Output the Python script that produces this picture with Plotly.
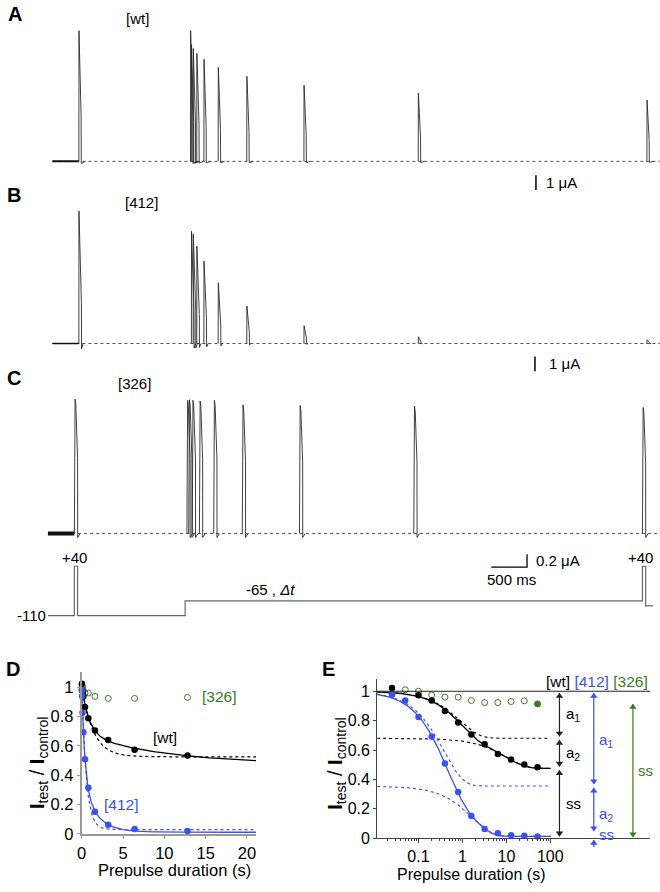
import numpy as np
import plotly.graph_objects as go

W, H = 660, 892


def fx(px):
    return px / W


def fy(py):
    return 1 - py / H


# ---------------- data ----------------
# Current traces: test intervals (s) and peak currents (uA)
dt_A = [0.0125, 0.025, 0.05, 0.1, 0.2, 0.4, 0.8, 1.6, 3.2, 6.4]
peak_A = [8.8, 7.87, 7.6, 7.27, 6.87, 6.33, 5.73, 5.13, 4.6, 4.13]
ctrl_A = 8.8

dt_B = [0.025, 0.05, 0.1, 0.2, 0.4, 0.8, 1.6, 3.2, 6.4]
peak_B = [7.56, 7.38, 6.56, 5.56, 4.09, 2.53, 1.2, 0.45, 0.25]
ctrl_B = 8.93

dt_C = [0.025, 0.05, 0.1, 0.2, 0.4, 0.8, 1.6, 3.2, 6.4]
peak_C = [2.07, 2.08, 2.07, 2.06, 2.07, 2.0, 1.99, 1.98, 1.96]
ctrl_C = 2.09

# pulse shapes (time after pulse start in s, fraction of peak)
tpl_A_t = [0, 0.002, 0.032, 0.034, 0.06, 0.09]
tpl_A_y = [0, 1, 0.34, -0.015, -0.01, 0]
tpl_B_t = [0, 0.002, 0.036, 0.038, 0.06]
tpl_B_y = [0, 1, 0.3, -0.04, 0]
tpl_C_t = [0, 0.004, 0.01, 0.02, 0.032, 0.045, 0.046, 0.06, 0.08]
tpl_C_y = [0, 0.85, 1, 0.96, 0.8, 0.56, -0.03, -0.02, 0]

# voltage protocol (mV, s)
V_HOLD, V_PULSE, V_PRE, V_POST = -110, 40, -65, -80
T_START, T_CTRL, PULSE_W, T_END = -1.92, -1.55, 0.045, 6.55
DT_SHOWN = 6.4

# Normalised test current vs prepulse duration
dt_wt = [0.025, 0.1, 0.2, 0.4, 0.8, 1.6, 3.2, 6.4, 12.8, 25.6, 51.2]
r_wt = [1.022, 0.973, 0.937, 0.865, 0.788, 0.705, 0.64, 0.573, 0.535, 0.501, 0.483]
dt_412 = [0.025, 0.05, 0.1, 0.2, 0.4, 0.8, 1.6, 3.2, 6.4, 12.8, 25.6, 51.2]
r_412 = [0.977, 0.937, 0.825, 0.692, 0.508, 0.315, 0.151, 0.063, 0.034, 0.02, 0.016, 0.012]
dt_326 = [0.025, 0.05, 0.1, 0.2, 0.4, 0.8, 1.6, 3.2, 6.4, 12.8, 25.6, 51.2]
r_326 = [0.984, 1.01, 1.0, 0.975, 0.96, 0.96, 0.937, 0.923, 0.923, 0.93, 0.935, 0.914]

# fit parameters
wt_fit = dict(ss=0.475, a1=0.32, tau1=0.9, a2=0.205, tau2=10.0)
m412_fit = dict(ss=0.012, a1=0.645, tau1=0.38, a2=0.343, tau2=1.7)
wt_mono = dict(ss=0.525, a=0.475, tau=1.4)
m412_mono = dict(ss=0.03, a=0.97, tau=0.55)
ss_326 = 0.92

# ---------------- colours ----------------
TRACE = '#2a2a2a'
BLUE = '#3b50f0'
GREEN = '#3d7a25'
FONT = 'Liberation Sans, Arial, Helvetica, sans-serif'

fig = go.Figure()


def xr(onset_px, ppu, left_px, right_px):
    return [(left_px - onset_px) / ppu, (right_px - onset_px) / ppu]


def yr(base_px, ppu, top_px, bot_px):
    return [-(bot_px - base_px) / ppu, (base_px - top_px) / ppu]


PX_S = 72.0
A_XR = xr(186, PX_S, 40, 660)
C_XR = xr(181.5, PX_S, 40, 660)
A_DOM_Y = (15, 200)
B_DOM_Y = (200, 385)
C_DOM_Y = (395, 590)
P_DOM_Y = (552, 634)
A_YR = yr(163, 15, *A_DOM_Y)
B_YR = yr(347, 15, *B_DOM_Y)
C_YR = yr(539, 65, *C_DOM_Y)
P_YR = yr(622 - 110 / 3.0, 1 / 3.0, *P_DOM_Y)


def build_sweeps(ctrl, dts, peaks, tt, ty):
    xs, ys = [], []
    for t0, a in [(T_CTRL, ctrl)] + list(zip(dts, peaks)):
        xs += [t0 + u for u in tt] + [None]
        ys += [a * v for v in ty] + [None]
    return xs, ys


def trace_panel(ax, ctrl, dts, peaks, tt, ty, xrng, pre_width):
    xa = 'x' if ax == 1 else 'x%d' % ax
    ya = 'y' if ax == 1 else 'y%d' % ax
    fig.add_trace(go.Scatter(x=[T_START, xrng[1]], y=[0, 0], mode='lines',
                             line=dict(color='#555', width=1, dash='dot'),
                             xaxis=xa, yaxis=ya, hoverinfo='skip'))
    fig.add_trace(go.Scatter(x=[T_START, T_CTRL], y=[0, 0], mode='lines',
                             line=dict(color='#111', width=pre_width),
                             xaxis=xa, yaxis=ya, hoverinfo='skip'))
    xs, ys = build_sweeps(ctrl, dts, peaks, tt, ty)
    fig.add_trace(go.Scatter(x=xs, y=ys, mode='lines',
                             line=dict(color=TRACE, width=0.9),
                             xaxis=xa, yaxis=ya, hoverinfo='skip'))


trace_panel(1, ctrl_A, dt_A, peak_A, tpl_A_t, tpl_A_y, A_XR, 2)
trace_panel(2, ctrl_B, dt_B, peak_B, tpl_B_t, tpl_B_y, A_XR, 1.5)
trace_panel(3, ctrl_C, dt_C, peak_C, tpl_C_t, tpl_C_y, C_XR, 4)

# scale bars
SB_UA_AB, SB_UA_C, SB_MS_C = 1.0, 0.2, 500
fig.add_trace(go.Scatter(x=[(535 - 186) / PX_S] * 2, y=[-0.93, -0.93 - SB_UA_AB], mode='lines',
                         line=dict(color='black', width=1.5), xaxis='x', yaxis='y'))
fig.add_trace(go.Scatter(x=[(534 - 186) / PX_S] * 2, y=[-0.87, -0.87 - SB_UA_AB], mode='lines',
                         line=dict(color='black', width=1.5), xaxis='x2', yaxis='y2'))
sbx = (526 - 181.5) / PX_S
sby = -0.523
fig.add_trace(go.Scatter(x=[sbx - SB_MS_C / 1000.0, sbx, sbx], y=[sby, sby, sby + SB_UA_C], mode='lines',
                         line=dict(color='black', width=1.3), xaxis='x3', yaxis='y3'))

# voltage protocol
pt = [T_START, T_CTRL, T_CTRL, T_CTRL + PULSE_W, T_CTRL + PULSE_W, 0, 0,
      DT_SHOWN, DT_SHOWN, DT_SHOWN + PULSE_W, DT_SHOWN + PULSE_W, T_END]
pv = [V_HOLD, V_HOLD, V_PULSE, V_PULSE, V_HOLD, V_HOLD, V_PRE,
      V_PRE, V_PULSE, V_PULSE, V_POST, V_POST]
fig.add_trace(go.Scatter(x=pt, y=pv, mode='lines', line=dict(color='#666', width=1.2),
                         xaxis='x4', yaxis='y4', hoverinfo='skip'))


# ---------------- fits ----------------
def biexp(t, p):
    t = np.asarray(t)
    return p['ss'] + p['a1'] * np.exp(-t / p['tau1']) + p['a2'] * np.exp(-t / p['tau2'])


def fast_comp(t, p):
    t = np.asarray(t)
    return p['ss'] + p['a2'] + p['a1'] * np.exp(-t / p['tau1'])


def slow_comp(t, p):
    t = np.asarray(t)
    return p['ss'] + p['a2'] * np.exp(-t / p['tau2'])


def mono(t, p):
    t = np.asarray(t)
    return p['ss'] + p['a'] * np.exp(-t / p['tau'])


D_XR = [0, 21.1]
tD = np.linspace(0, 21.1, 300)
for yv, col, dash, w in [(mono(tD, wt_mono), 'black', 'dot', 1.2),
                         (biexp(tD, wt_fit), 'black', 'solid', 1.3),
                         (mono(tD, m412_mono), BLUE, 'dot', 1.2),
                         (biexp(tD, m412_fit), BLUE, 'solid', 1.3)]:
    fig.add_trace(go.Scatter(x=tD, y=yv, mode='lines', line=dict(color=col, width=w, dash=dash),
                             xaxis='x5', yaxis='y5', hoverinfo='skip'))


def inrange(xs, ys, hi):
    pairs = [(a, b) for a, b in zip(xs, ys) if a <= hi]
    return [p[0] for p in pairs], [p[1] for p in pairs]


gx, gy = inrange(dt_326, r_326, D_XR[1])
fig.add_trace(go.Scatter(x=gx, y=gy, mode='markers', cliponaxis=False,
                         marker=dict(size=6, color='rgba(0,0,0,0)', line=dict(color=GREEN, width=1)),
                         xaxis='x5', yaxis='y5'))
bx, by = inrange(dt_wt, r_wt, D_XR[1])
fig.add_trace(go.Scatter(x=bx, y=by, mode='markers', cliponaxis=False,
                         marker=dict(size=6.5, color='black'), xaxis='x5', yaxis='y5'))
ux, uy = inrange(dt_412, r_412, D_XR[1])
fig.add_trace(go.Scatter(x=ux, y=uy, mode='markers', cliponaxis=False,
                         marker=dict(size=6.5, color=BLUE), xaxis='x5', yaxis='y5'))

E_XR = [-1.94, 4.27]
tE = np.logspace(-1.94, 2.01, 300)
for yv, col, dash, w in [(fast_comp(tE, wt_fit), 'black', 'dot', 1.1),
                         (slow_comp(tE, wt_fit), 'black', 'dot', 1.1),
                         (fast_comp(tE, m412_fit), BLUE, 'dot', 1.1),
                         (slow_comp(tE, m412_fit), BLUE, 'dot', 1.1),
                         (biexp(tE, wt_fit), 'black', 'solid', 1.3),
                         (biexp(tE, m412_fit), BLUE, 'solid', 1.3)]:
    fig.add_trace(go.Scatter(x=tE, y=yv, mode='lines', line=dict(color=col, width=w, dash=dash),
                             xaxis='x6', yaxis='y6', hoverinfo='skip'))

fig.add_trace(go.Scatter(x=dt_326, y=r_326, mode='markers', cliponaxis=False,
                         marker=dict(size=6, color=['rgba(0,0,0,0)'] * (len(dt_326) - 1) + [GREEN],
                                     line=dict(color=GREEN, width=1)),
                         xaxis='x6', yaxis='y6'))
fig.add_trace(go.Scatter(x=dt_wt, y=r_wt, mode='markers', cliponaxis=False,
                         marker=dict(size=6.5, color='black'), xaxis='x6', yaxis='y6'))
fig.add_trace(go.Scatter(x=dt_412, y=r_412, mode='markers', cliponaxis=False,
                         marker=dict(size=6.5, color=BLUE), xaxis='x6', yaxis='y6'))

# ---------------- amplitude arrows in E (overlay axes in pixel units) ----------------
E_PPU = 148.4
E_ZERO = 846.7
AR_TOP, AR_BOT = 680, 870
HEAD = 3.2 / E_PPU


def arrow(xpx, lo, hi, color, up=True, down=True):
    fig.add_trace(go.Scatter(x=[xpx, xpx], y=[lo, hi], mode='lines', line=dict(color=color, width=1.2),
                             xaxis='x7', yaxis='y7', hoverinfo='skip'))
    mx, my, ms = [], [], []
    if up:
        mx.append(xpx); my.append(hi - HEAD); ms.append('triangle-up')
    if down:
        mx.append(xpx); my.append(lo + HEAD); ms.append('triangle-down')
    fig.add_trace(go.Scatter(x=mx, y=my, mode='markers', cliponaxis=False,
                             marker=dict(symbol=ms, size=6.5, color=color, line=dict(width=0)),
                             xaxis='x7', yaxis='y7', hoverinfo='skip'))


g = 0.012
wl = [1.0, 1.0 - wt_fit['a1'], wt_fit['ss'], 0.0]
wt_labels = ['a<sub>1</sub>', 'a<sub>2</sub>', 'ss']
for i in range(3):
    arrow(558.7, wl[i + 1] + g, wl[i] - g, '#222')

bl = [1.0, m412_fit['ss'] + m412_fit['a2'], m412_fit['ss']]
arrow(593.3, bl[1] + g, bl[0] - g, BLUE)
arrow(593.3, bl[2] + 0.035, bl[1] - g, BLUE)
arrow(593.3, -0.06, -0.012, BLUE, up=True, down=False)
arrow(632.7, 0.006, ss_326 - 0.006, GREEN)

# ---------------- layout ----------------
hidden = dict(visible=False, fixedrange=True)
tickf = dict(family=FONT, size=16.5, color='black')
tickfE = dict(family=FONT, size=16, color='black')
minor_vals = [m * 10.0 ** e for e in (-2, -1, 0, 1) for m in range(2, 10)]

fig.update_layout(
    width=W, height=H, margin=dict(l=0, r=0, t=0, b=0), autosize=False,
    paper_bgcolor='white', plot_bgcolor='rgba(0,0,0,0)', showlegend=False,
    font=dict(family=FONT, size=15, color='black'),
    xaxis=dict(domain=[fx(40), fx(660)], range=A_XR, anchor='y', **hidden),
    yaxis=dict(domain=[fy(A_DOM_Y[1]), fy(A_DOM_Y[0])], range=A_YR, anchor='x', **hidden),
    xaxis2=dict(domain=[fx(40), fx(660)], range=A_XR, anchor='y2', **hidden),
    yaxis2=dict(domain=[fy(B_DOM_Y[1]), fy(B_DOM_Y[0])], range=B_YR, anchor='x2', **hidden),
    xaxis3=dict(domain=[fx(40), fx(660)], range=C_XR, anchor='y3', **hidden),
    yaxis3=dict(domain=[fy(C_DOM_Y[1]), fy(C_DOM_Y[0])], range=C_YR, anchor='x3', **hidden),
    xaxis4=dict(domain=[fx(40), fx(660)], range=C_XR, anchor='y4', **hidden),
    yaxis4=dict(domain=[fy(P_DOM_Y[1]), fy(P_DOM_Y[0])], range=P_YR, anchor='x4', **hidden),
    xaxis5=dict(domain=[fx(77.3), fx(253)], range=D_XR, anchor='y5',
                tickvals=[0, 5, 10, 15, 20], ticks='outside', ticklen=3, tickcolor='#999',
                showline=True, linecolor='#999', linewidth=2, showgrid=False, zeroline=False,
                tickfont=tickf, fixedrange=True),
    yaxis5=dict(domain=[fy(842.5), fy(679)], range=[0, (842.5 - 679) / 148.4], anchor='x5',
                tickvals=[0, 0.2, 0.4, 0.6, 0.8, 1], ticktext=['0', '0.2', '0.4', '0.6', '0.8', '1'],
                ticks='outside', ticklen=3, tickcolor='#999',
                showline=True, linecolor='#999', linewidth=2, showgrid=False, zeroline=False,
                tickfont=tickf, fixedrange=True),
    xaxis6=dict(domain=[fx(375), fx(650)], type='log', range=E_XR, anchor='y6',
                tickvals=[0.1, 1, 10, 100], ticktext=['0.1', '1', '10', '100'],
                ticks='outside', ticklen=4, tickcolor='#444',
                minor=dict(tickvals=minor_vals, ticks='outside', ticklen=2, tickcolor='#444'),
                showline=True, linecolor='#444', linewidth=1, showgrid=False, zeroline=False,
                tickfont=tickfE, fixedrange=True),
    yaxis6=dict(domain=[fy(E_ZERO), fy(686)], range=[0, (E_ZERO - 686) / E_PPU], anchor='x6',
                tickvals=[0, 0.2, 0.4, 0.6, 0.8, 1], ticktext=['0', '0.2', '0.4', '0.6', '0.8', '1'],
                ticks='outside', ticklen=3, tickcolor='#444',
                showline=True, linecolor='#444', linewidth=1, showgrid=False, zeroline=False,
                tickfont=tickfE, fixedrange=True),
    xaxis7=dict(domain=[fx(375), fx(660)], range=[375, 660], anchor='y7', **hidden),
    yaxis7=dict(domain=[fy(AR_BOT), fy(AR_TOP)],
                range=[-(AR_BOT - E_ZERO) / E_PPU, (E_ZERO - AR_TOP) / E_PPU], anchor='x7', **hidden),
)

# reference line at 1 in E
fig.add_shape(type='line', xref='paper', yref='y6', x0=fx(375), x1=fx(650), y0=1, y1=1,
              line=dict(color='#222', width=1))


def txt(x, y, s, size=15, color='black', xanchor='center', yanchor='middle', **kw):
    fig.add_annotation(x=fx(x), y=fy(y), xref='paper', yref='paper', text=s, showarrow=False,
                       font=dict(family=FONT, size=size, color=color), xanchor=xanchor,
                       yanchor=yanchor, **kw)


def elabel(xpx, y, s, color):
    fig.add_annotation(x=fx(xpx), xref='paper', y=y, yref='y7', text=s, showarrow=False,
                       xanchor='left', yanchor='middle', font=dict(family=FONT, size=15, color=color))


for i in range(3):
    elabel(563, (wl[i] + wl[i + 1]) / 2, wt_labels[i], 'black')
elabel(597, (bl[0] + bl[1]) / 2 - 0.01, 'a<sub>1</sub>', BLUE)
elabel(597, (bl[1] + bl[2]) / 2 - 0.02, 'a<sub>2</sub>', BLUE)
elabel(597, 0.022, 'ss', BLUE)
elabel(636, ss_326 / 2, 'ss', GREEN)

# panel letters
for L, x, y in [('A', 10, 14), ('B', 9, 197), ('C', 9, 382), ('D', 8, 676), ('E', 326, 676)]:
    txt(x, y, '<b>%s</b>' % L, size=20)

txt(134, 19, '[wt]')
txt(138, 205, '[412]')
txt(130, 387, '[326]')
txt(543, 184.5, '1 μA', xanchor='left')
txt(546, 367.5, '1 μA', xanchor='left')
txt(533, 566, '0.2 μA', xanchor='left')
txt(510, 585, '500 ms')
txt(70, 563, '+40')
txt(640, 563, '+40')
txt(43, 622, '-110', xanchor='right')
txt(268, 596, '-65 , <i>Δt</i>')

# D labels
txt(216, 704, '[326]', color=GREEN, size=15.5)
txt(161, 745.5, '[wt]', size=15.5)
txt(117, 813, '[412]', color=BLUE, size=15.5)
ylab = '<b>I</b><sub>test</sub> / <b>I</b><sub>control</sub>'
txt(33, 771, ylab, size=20, textangle=-90)
txt(334, 771, ylab, size=20, textangle=-90)
txt(171, 879, 'Prepulse duration (s)', size=16.5)
txt(470, 883.5, 'Prepulse duration (s)', size=16)

# E header
txt(650, 688, '[wt] <span style="color:%s">[412]</span> <span style="color:%s">[326]</span>' % (BLUE, GREEN),
    size=15.5, xanchor='right')

fig.write_html('out.html', config={'displayModeBar': False},
               post_script="document.body.style.margin='0px';document.body.style.overflow='hidden';")
